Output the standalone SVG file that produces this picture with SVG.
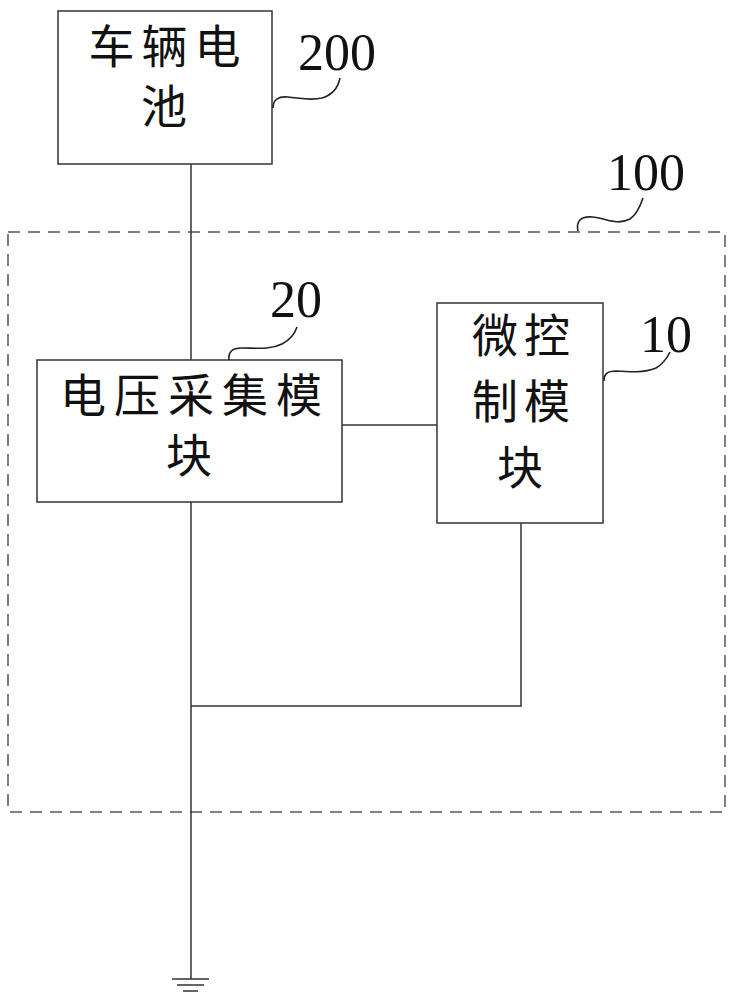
<svg xmlns="http://www.w3.org/2000/svg" width="735" height="1000" viewBox="0 0 735 1000">
<style>
.box{fill:#fff;stroke:#333;stroke-width:1.5}
.wire{fill:none;stroke:#333;stroke-width:1.5}
.dash{fill:none;stroke:#555;stroke-width:1.5;stroke-dasharray:12 8}
.cn{font-family:"Noto Sans CJK SC","Noto Sans",sans-serif;font-size:46px;fill:#111;text-anchor:middle}
.num{font-family:"Liberation Serif",serif;font-size:52px;fill:#111}
.lead{fill:none;stroke:#222;stroke-width:1.6}
</style>
<rect width="735" height="1000" fill="#fff"/>
<g id="boundary-100">
<rect class="dash" x="8" y="232" width="717" height="580"/>
<path class="lead" d="M578,231 C576,222 580,216 592,217 C606,218 616,226 630,219 C636,215 640,207 643,198"/>
<text class="num" x="607" y="190">100</text>
</g>
<g id="connectors">
<path class="wire" d="M191,164 V360"/>
<path class="wire" d="M342,425 H437"/>
<path class="wire" d="M191,502 V979"/>
<path class="wire" d="M521,523 V706 H191"/>
</g>
<g id="battery-200">
<rect class="box" x="58" y="11" width="214" height="153"/>
<text class="cn" x="168" y="63" letter-spacing="7">车辆电</text>
<text class="cn" x="164" y="123">池</text>
<path class="lead" d="M273,108 C273,100 278,96 288,97 C300,98 310,101 322,98 C332,95 338,88 340,78"/>
<text class="num" x="298" y="70">200</text>
</g>
<g id="voltage-20">
<rect class="box" x="37" y="360" width="305" height="142"/>
<text class="cn" x="195" y="412" letter-spacing="8">电压采集模</text>
<text class="cn" x="189" y="472">块</text>
<path class="lead" d="M229,360 C228,352 232,348 242,348 C256,348 270,350 282,344 C290,340 295,333 297,327"/>
<text class="num" x="270" y="317">20</text>
</g>
<g id="mcu-10">
<rect class="box" x="437" y="303" width="166" height="220"/>
<text class="cn" x="524" y="352" letter-spacing="6">微控</text>
<text class="cn" x="524" y="418" letter-spacing="6">制模</text>
<text class="cn" x="520" y="484">块</text>
<path class="lead" d="M604,381 C604,374 607,371 616,371 C630,372 644,373 656,368 C663,364 667,358 670,352"/>
<text class="num" x="640" y="352">10</text>
</g>
<g id="ground">
<path class="wire" d="M172,979 H209 M177,985 H204 M183,991 H198" stroke-width="2"/>
</g>
</svg>
